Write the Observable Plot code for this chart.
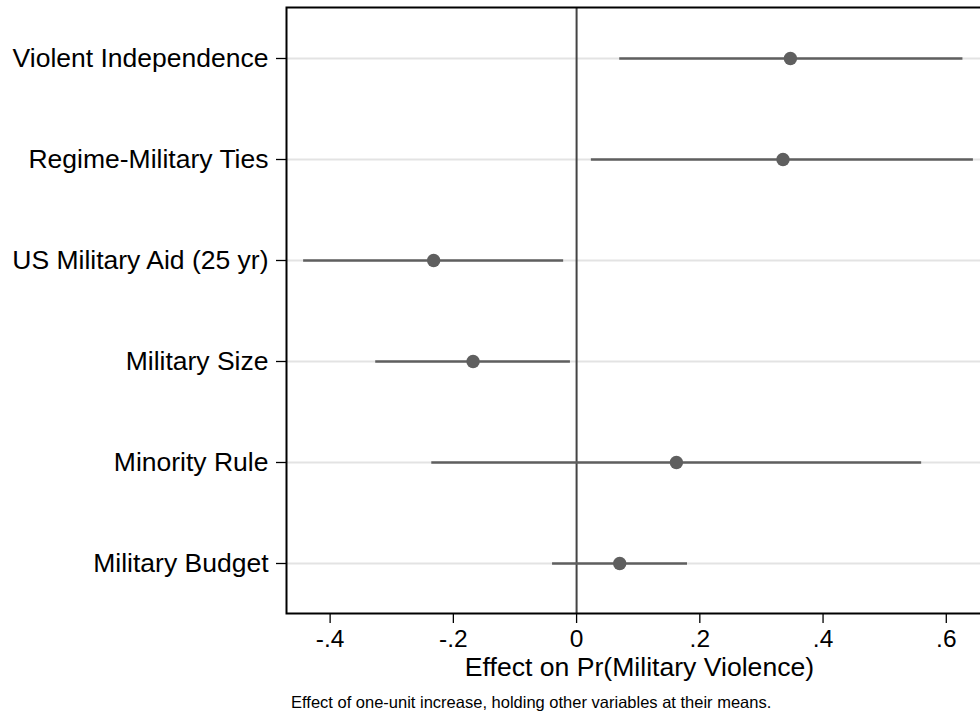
<!DOCTYPE html>
<html>
<head>
<meta charset="utf-8">
<script src="https://cdn.jsdelivr.net/npm/d3@7"></script>
<script src="https://cdn.jsdelivr.net/npm/@observablehq/plot@0.6"></script>
<style>
  html, body { margin: 0; padding: 0; background: #fff; overflow: hidden; width: 980px; height: 716px; }
  #chart { width: 1002px; }
  #chart svg { display: block; max-width: none !important; width: 1002px; height: 680px; }
  #caption { font-family: "Liberation Sans", Arial, sans-serif; font-size: 16.5px; color: #000; position: absolute; left: 291px; top: 693px; white-space: nowrap; }
</style>
</head>
<body>
<div id="chart"></div>
<div id="caption"></div>
<script>
const categories = ["Violent Independence", "Regime-Military Ties", "US Military Aid (25 yr)", "Military Size", "Minority Rule", "Military Budget"];
const estimates = [0.347, 0.335, -0.232, -0.168, 0.162, 0.070];
const lower = [0.070, 0.024, -0.443, -0.326, -0.235, -0.039];
const upper = [0.627, 0.644, -0.021, -0.010, 0.560, 0.180];
const xTicks = [-0.4, -0.2, 0, 0.2, 0.4, 0.6];
const xDomain = [-0.4708, 0.675];
const xTitle = "Effect on Pr(Military Violence)";
const captionText = "Effect of one-unit increase, holding other variables at their means.";

const data = categories.map((c, i) => ({name: c, est: estimates[i], lo: lower[i], hi: upper[i]}));
const fmt = d => d === 0 ? "0" : (d < 0 ? "-" : "") + Math.abs(d).toFixed(1).replace(/^0/, "");

const chart = Plot.plot({
  width: 1002,
  height: 680,
  marginLeft: 286,
  marginRight: 10,
  marginTop: 7,
  marginBottom: 67,
  style: {fontFamily: "'Liberation Sans', Arial, sans-serif", color: "#000", background: "#fff", overflow: "visible", maxWidth: "none"},
  x: {domain: xDomain},
  y: {domain: categories, type: "point", padding: 0.5},
  marks: [
    Plot.gridY({stroke: "#e3e3e3", strokeOpacity: 1, strokeWidth: 2}),
    Plot.ruleX([0], {stroke: "#444", strokeWidth: 2}),
    Plot.ruleY(data, {y: "name", x1: "lo", x2: "hi", stroke: "#5f5f5f", strokeWidth: 2.5}),
    Plot.dot(data, {x: "est", y: "name", r: 6.7, fill: "#5f5f5f", stroke: "none"}),
    Plot.axisY({tickSize: 10, tickPadding: 8, fontSize: 26.5, label: null, stroke: "#000", strokeWidth: 1.3}),
    Plot.axisX({ticks: xTicks, tickFormat: fmt, tickSize: 10, tickPadding: 6, fontSize: 24.5, stroke: "#000", strokeWidth: 1.3,
      label: xTitle, labelAnchor: "center", labelArrow: "none", labelOffset: 62}),
    Plot.frame({stroke: "#000", strokeWidth: 2})
  ]
});
document.getElementById("chart").appendChild(chart);
document.getElementById("caption").textContent = captionText;
chart.querySelectorAll("g[aria-label='x-axis label'] text").forEach(t => t.setAttribute("font-size", 26.6));
</script>
</body>
</html>
